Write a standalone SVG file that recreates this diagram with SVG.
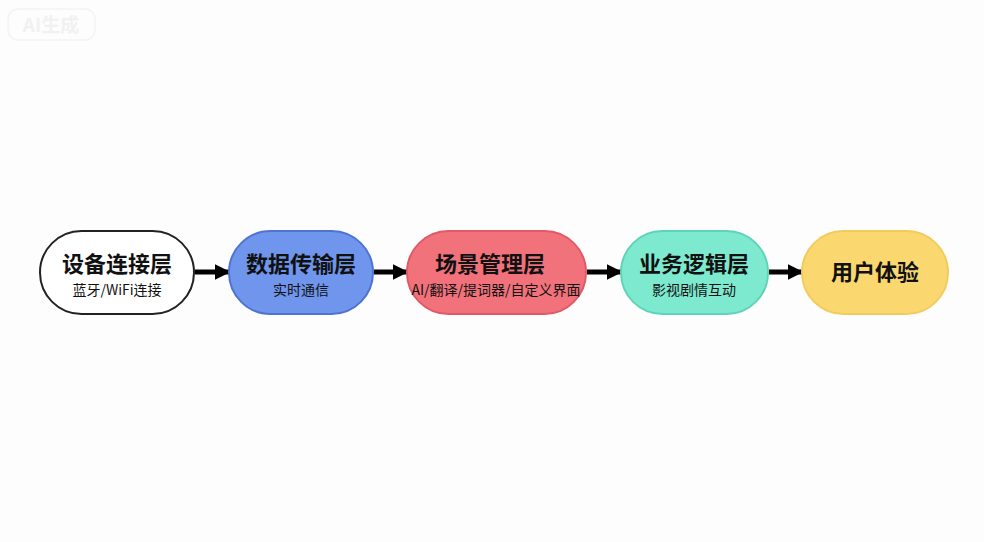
<svg xmlns="http://www.w3.org/2000/svg" width="984" height="542" viewBox="0 0 984 542">
<defs>
<style>
.node{stroke-width:2}
.t{font-family:"Noto Sans CJK SC","Noto Sans",sans-serif;font-weight:700;font-size:22px;fill:#111;text-anchor:middle}
.s{font-family:"Noto Sans CJK SC","Noto Sans",sans-serif;font-size:14px;fill:#111;text-anchor:middle}
.conn{stroke:#000;stroke-width:5;fill:none;marker-end:url(#ah)}
</style>
<marker id="ah" viewBox="0 0 10 10" refX="9" refY="5" markerWidth="3.2" markerHeight="3.6" orient="auto" markerUnits="strokeWidth">
<path d="M0,0 L10,5 L0,10 Z" fill="#000"/>
</marker>
</defs>
<rect width="984" height="542" fill="#fdfdfd"/>
<g id="watermark">
<rect x="8" y="9" width="87" height="31" rx="10" fill="none" stroke="#f3f3f3" stroke-width="1.5"/>
<text x="51" y="32" font-family="Noto Sans CJK SC,sans-serif" font-size="19" fill="#f1f1f1" text-anchor="middle" font-weight="700">AI生成</text>
</g>
<g id="connectors">
<line class="conn" x1="195" y1="272" x2="229" y2="272"/>
<line class="conn" x1="374" y1="272" x2="407" y2="272"/>
<line class="conn" x1="587" y1="272" x2="621" y2="272"/>
<line class="conn" x1="769" y1="272" x2="802" y2="272"/>
</g>
<g id="n1">
<rect class="node" x="40" y="231" width="154" height="83" rx="41.5" fill="#ffffff" stroke="#222"/>
<text class="t" x="117" y="272">设备连接层</text>
<text class="s" x="117" y="295">蓝牙/WiFi连接</text>
</g>
<g id="n2">
<rect class="node" x="229" y="231" width="144" height="83" rx="41.5" fill="#6f95ec" stroke="#4f74d0"/>
<text class="t" x="301" y="272">数据传输层</text>
<text class="s" x="301" y="295">实时通信</text>
</g>
<g id="n3">
<rect class="node" x="407" y="231" width="179" height="83" rx="41.5" fill="#f2727b" stroke="#e05a66"/>
<text class="t" x="490" y="272">场景管理层</text>
<text class="s" x="496" y="295">AI/翻译/提词器/自定义界面</text>
</g>
<g id="n4">
<rect class="node" x="621" y="231" width="147" height="83" rx="41.5" fill="#7deacf" stroke="#5fd3b8"/>
<text class="t" x="694" y="272">业务逻辑层</text>
<text class="s" x="694" y="295">影视剧情互动</text>
</g>
<g id="n5">
<rect class="node" x="802" y="231" width="146" height="83" rx="41.5" fill="#fbd86f" stroke="#f2cb5c"/>
<text class="t" x="875" y="280">用户体验</text>
</g>
</svg>
